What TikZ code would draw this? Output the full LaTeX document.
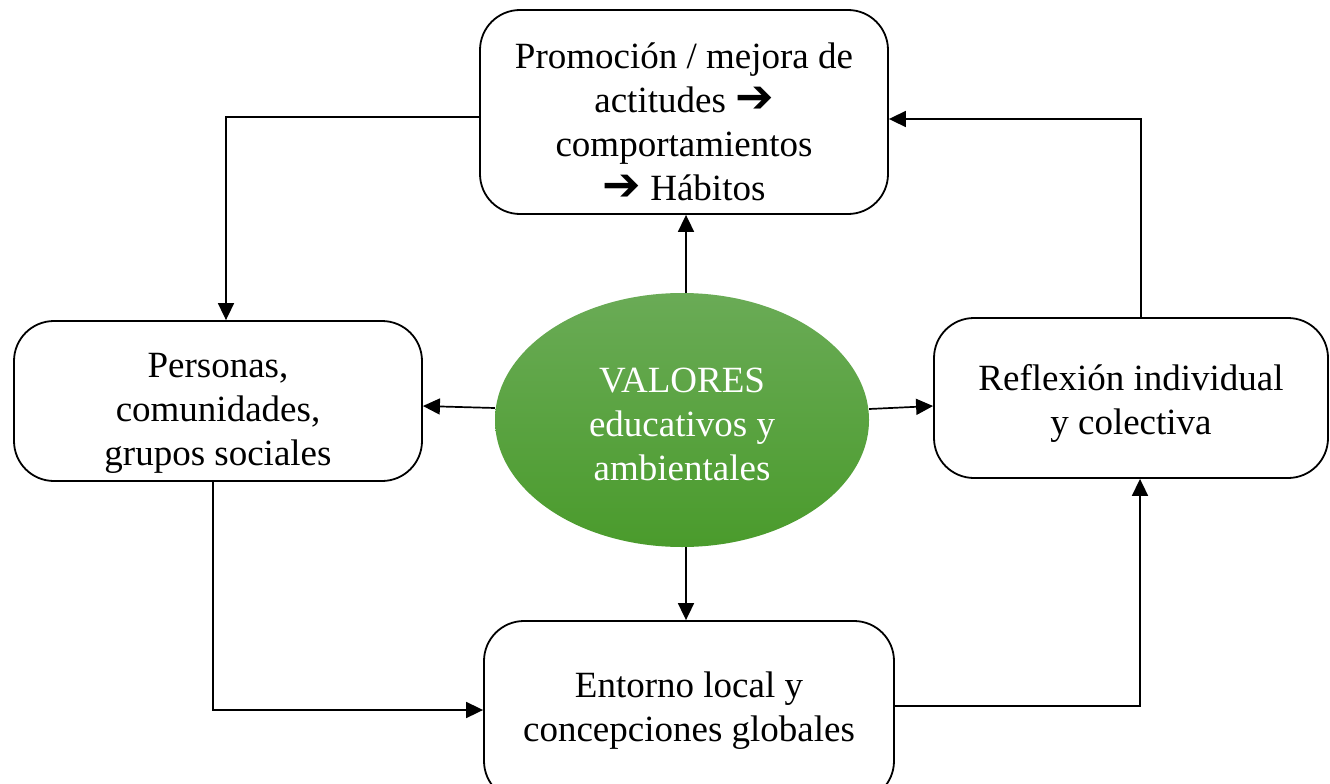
\documentclass[tikz,border=0pt]{standalone}
\usepackage{fontspec}
\setmainfont{Liberation Serif}
\newfontfamily\dejavub{DejaVu Sans Bold}
\usetikzlibrary{shapes.geometric,arrows.meta}
\definecolor{gtop}{RGB}{106,171,86}
\definecolor{gbot}{RGB}{74,155,44}
\newcommand{\rarr}{{\dejavub\fontsize{46}{46}\selectfont ➔}}
\tikzset{
  box/.style={draw=black, line width=1.8pt, rounded corners=40pt, inner sep=0pt},
  txt/.style={align=center, font=\fontsize{37}{44}\selectfont, inner sep=0pt},
  arr/.style={line width=1.7pt, -{Triangle[length=17pt,width=16pt]}},
}
\begin{document}
\begin{tikzpicture}[x=1pt,y=-1pt]
\useasboundingbox (0,0) rectangle (1330,784);
\clip (0,0) rectangle (1330,784);
\fill[white] (0,0) rectangle (1330,784);
\node[box, minimum width=408pt, minimum height=204pt] (top) at (684,112) {};
\node[txt] (toptxt) at ([yshift=-10pt]top.center)
  {Promoción / mejora de\\ actitudes \rarr\\ comportamientos\\ \rarr\ Hábitos};
\node[box, minimum width=408pt, minimum height=160pt] (left) at (218,401) {};
\node[txt] (lefttxt) at ([yshift=-12pt]left.center)
  {Personas,\\ comunidades,\\ grupos sociales};
\node[box, minimum width=394pt, minimum height=160pt] (right) at (1131,398) {};
\node[txt] (righttxt) at ([yshift=-5pt]right.center)
  {Reflexión individual\\ y colectiva};
\node[box, minimum width=410pt, minimum height=180pt] (bot) at (689,711) {};
\node[txt] (bottxt) at (bot.center)
  {Entorno local y\\ concepciones globales};
\node[ellipse, top color=gtop, bottom color=gbot, draw=none, minimum width=374pt,
  minimum height=254pt, inner sep=0pt] (ell) at (682,420) {};
\node[txt, text=white] (elltxt) at ([yshift=-4pt]ell.center)
  {VALORES\\ educativos y\\ ambientales};
\draw[arr] ([xshift=4pt]ell.north) -- ([xshift=4pt]ell.north |- top.south);
\draw[arr] ([xshift=4pt]ell.south) -- ([xshift=4pt]ell.south |- bot.north);
\draw[arr] ([yshift=12pt]ell.west) -- ([yshift=-5pt]left.east);
\draw[arr] ([yshift=11pt]ell.east) -- ([yshift=-8pt]right.west);
\draw[arr] ([yshift=-5pt]top.west) -| ([xshift=8pt]left.north);
\draw[arr] ([xshift=10pt]right.north) |- ([yshift=-7pt]top.east);
\draw[arr] ([xshift=-5pt]left.south) |- ([yshift=1pt]bot.west);
\draw[arr] ([yshift=5pt]bot.east) -| ([xshift=9pt]right.south);
\end{tikzpicture}
\end{document}
